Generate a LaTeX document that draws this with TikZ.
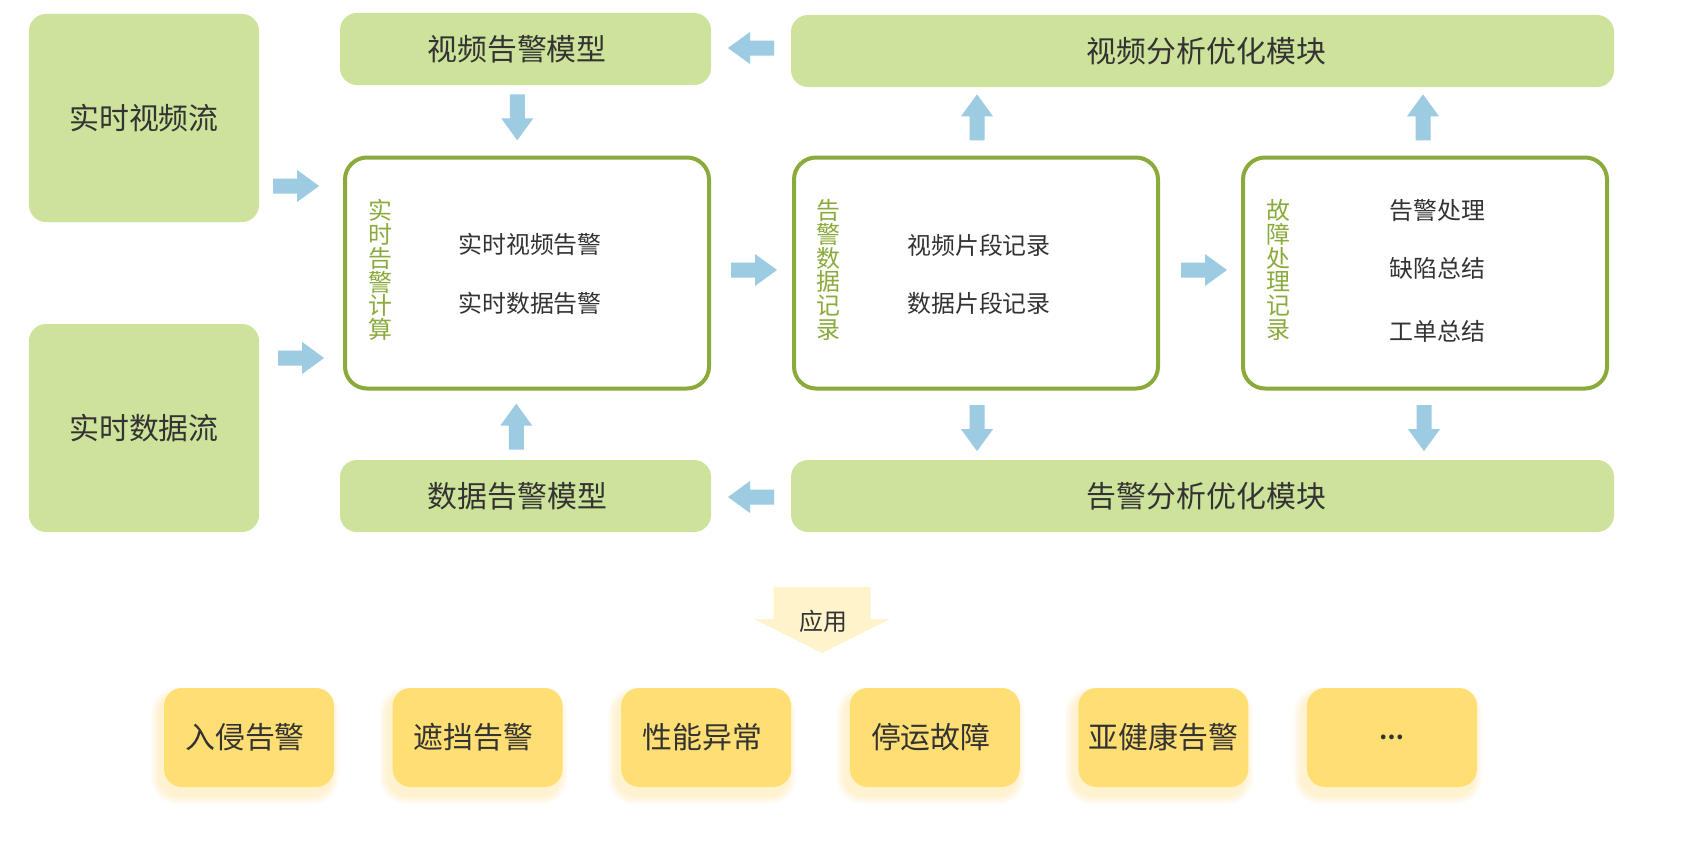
\documentclass[tikz,border=0pt]{standalone}
\usepackage{fontspec}
\setmainfont{Noto Sans CJK SC}
\usetikzlibrary{calc}
\definecolor{lg}{HTML}{CDE29A}
\definecolor{bd}{HTML}{8AAB3C}
\definecolor{ab}{HTML}{9CCBE2}
\definecolor{yb}{HTML}{FFDF73}
\definecolor{py}{HTML}{FFF3CC}
\definecolor{tx}{HTML}{333333}
\pgfdeclarelayer{background}
\pgfsetlayers{background,main}
\begin{document}
\begin{tikzpicture}[x=1bp,y=-1bp,
  gbox/.style={fill=lg, draw=none, rounded corners=17bp, inner sep=0pt, text=tx,
    font=\fontsize{30}{36}\selectfont},
  rbox/.style={draw=bd, line width=4bp, fill=white, rounded corners=22bp,
    minimum width=364bp, minimum height=231bp, inner sep=0pt},
  ybox/.style={fill=yb, draw=none, rounded corners=18bp, inner sep=0pt, text=tx,
    minimum width=170bp, minimum height=99bp, font=\fontsize{30}{36}\selectfont},
  item/.style={text=tx, inner sep=0pt, font=\fontsize{24}{28}\selectfont},
  vlab/.style={text=bd, inner sep=0pt, align=center, font=\fontsize{24}{23.8}\selectfont},
  pics/barrow/.style={code={\fill[ab] (-23,-7.5) -- (1,-7.5) -- (1,-16) -- (23,0)
      -- (1,16) -- (1,7.5) -- (-23,7.5) -- cycle;}}
]
\useasboundingbox (0,0) rectangle (1682,851);

% left source boxes
\node[gbox, minimum width=230bp, minimum height=208bp] (L1) at (144,118) {实时视频流};
\node[gbox, minimum width=230bp, minimum height=208bp] (L2) at (144,428) {实时数据流};

% model / optimisation boxes
\node[gbox, minimum width=371bp, minimum height=72bp] (vm) at (525.5,49) {\hspace*{-17bp}视频告警模型};
\node[gbox, minimum width=823bp, minimum height=72bp] (vo) at (1202.5,51) {\hspace*{8bp}视频分析优化模块};
\node[gbox, minimum width=371bp, minimum height=72bp] (dm) at (525.5,496) {\hspace*{-16bp}数据告警模型};
\node[gbox, minimum width=823bp, minimum height=72bp] (ao) at (1202.5,496) {\hspace*{8bp}告警分析优化模块};

% record boxes
\node[rbox] (b1) at (527,273) {};
\node[rbox] (b2) at (976,273) {};
\node[rbox] (b3) at (1425,273) {};

\node[vlab] (b1l) at ($(b1.west)+(37.5,-3)$) {实\\时\\告\\警\\计\\算};
\node[vlab] (b2l) at ($(b2.west)+(36.5,-3)$) {告\\警\\数\\据\\记\\录};
\node[vlab] (b3l) at ($(b3.west)+(37,-3)$) {故\\障\\处\\理\\记\\录};

\node[item] (b1a) at ($(b1.center)+(3,-29)$) {实时视频告警};
\node[item] (b1b) at ($(b1.center)+(3,30)$) {实时数据告警};
\node[item] (b2a) at ($(b2.center)+(3,-27.5)$) {视频片段记录};
\node[item] (b2b) at ($(b2.center)+(3,30)$) {数据片段记录};
\node[item] (b3a) at ($(b3.center)+(12.5,-63)$) {告警处理};
\node[item] (b3b) at ($(b3.center)+(12.5,-5)$) {缺陷总结};
\node[item] (b3c) at ($(b3.center)+(12.5,58)$) {工单总结};

% block arrows between named nodes
\pic at ($(L1.east)!0.5!(b1.west)+(-5,-9.5)$) {barrow};
\pic at ($(L2.east)!0.5!(b1.west)+(0,7.5)$) {barrow};
\pic at ($(b1.east)!0.5!(b2.west)+(2.5,-3)$) {barrow};
\pic at ($(b2.east)!0.5!(b3.west)+(3.5,-3)$) {barrow};
\pic[rotate=180] at ($(vo.west)!0.5!(vm.east)+(0,-2)$) {barrow};
\pic[rotate=180] at ($(ao.west)!0.5!(dm.east)+(0,1)$) {barrow};
\pic[rotate=-90] at ($(vm.south)!0.5!(b1.north)+(-9,-3)$) {barrow};
\pic[rotate=90] at ($(dm.north)!0.5!(b1.south)+(-10,1.5)$) {barrow};
\pic[rotate=90] at ($(b2.north)!0.5!(vo.south -| b2.north)+(1,-4)$) {barrow};
\pic[rotate=90] at ($(b3.north)!0.5!(vo.south -| b3.north)+(-2,-4)$) {barrow};
\pic[rotate=-90] at ($(b2.south)!0.5!(ao.north -| b2.south)+(1,3)$) {barrow};
\pic[rotate=-90] at ($(b3.south)!0.5!(ao.north -| b3.south)+(-1,3)$) {barrow};

% application arrow
\fill[py] (773.5,587) -- (870.5,587) -- (870.5,619) -- (890,619) -- (822,653)
  -- (754,619) -- (773.5,619) -- cycle;
\node[item, font=\fontsize{24}{28}\selectfont] (app) at (823,621) {应用};

% application boxes
\node[ybox] (y1) at (249,737.5) {\hspace*{-8bp}入侵告警};
\node[ybox] (y2) at (477.6,737.5) {\hspace*{-8bp}遮挡告警};
\node[ybox] (y3) at (706.2,737.5) {\hspace*{-8bp}性能异常};
\node[ybox] (y4) at (934.8,737.5) {\hspace*{-8bp}停运故障};
\node[ybox] (y5) at (1163.4,737.5) {亚健康告警};
\node[ybox, font=\fontsize{22}{24}\selectfont\bfseries] (y6) at (1392,737.5) {…};

\begin{pgfonlayer}{background}
\fill[white] (0,0) rectangle (1682,851);
\foreach \n in {y1,y2,y3,y4,y5,y6}{
  \foreach \e in {1,2,...,9}{
    \fill[yb, opacity=0.04, rounded corners={18bp+\e bp}]
      ($(\n.south west)+(-4-\e,8+\e)$) rectangle ($(\n.north east)+(-4+\e,8-\e)$);
  }
}
\end{pgfonlayer}
\end{tikzpicture}
\end{document}
